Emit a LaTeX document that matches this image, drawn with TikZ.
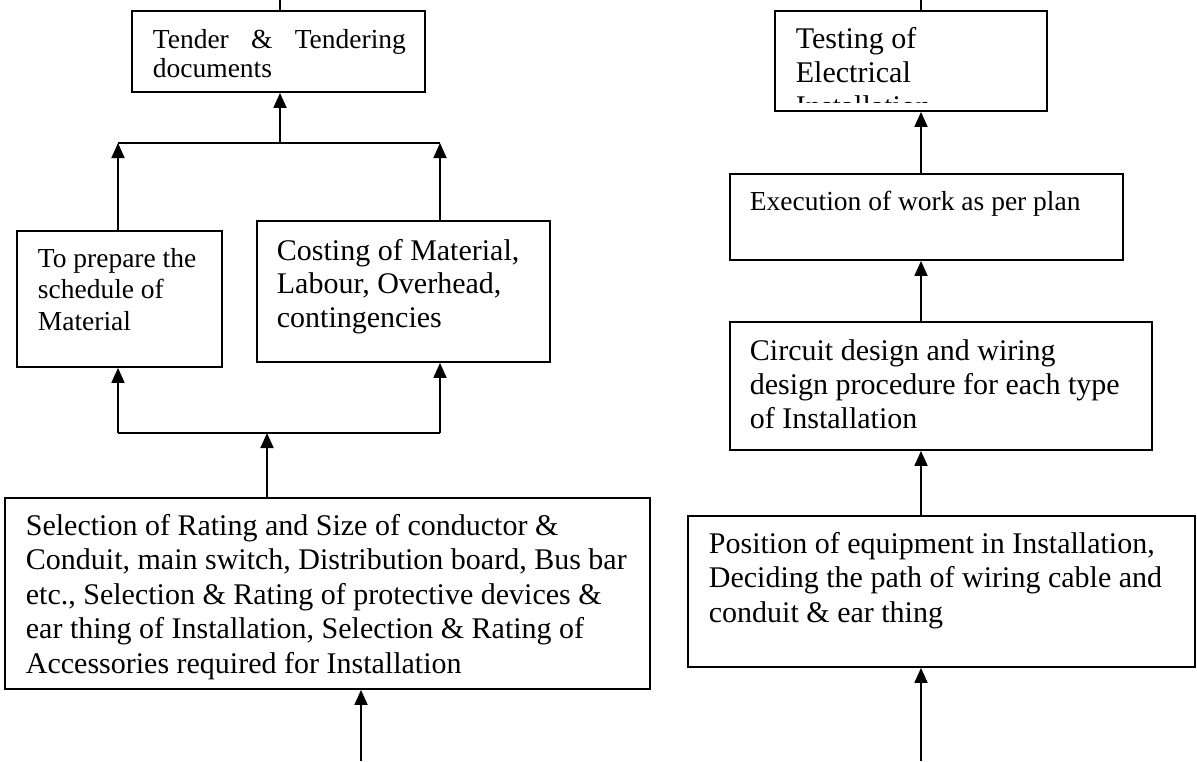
\documentclass[tikz,border=0pt]{standalone}
\usepackage{fontspec}
\setmainfont{Liberation Serif}
\usetikzlibrary{arrows.meta,fit,calc}

\begin{document}
\begin{tikzpicture}[x=0.5pt,y=-0.5pt,line width=0.9pt,
		blk/.style={draw,inner sep=0pt},
		txt/.style={inner sep=0pt,anchor=base west,align=left},
		big/.style={font=\fontsize{15}{17.25}\selectfont},
		sml/.style={font=\fontsize{13.75}{15}\selectfont},
		arr/.style={-{Triangle[length=7.5pt,width=6.5pt]}}]
	\useasboundingbox (0,0) rectangle (1197,761);
	% left column (text nodes sit on their last baseline)
	\node[blk,fit={(132,11) (425,92)}] (tend) {};
	\node[blk,fit={(17,231) (222,367)}] (sched) {};
	\node[blk,fit={(257,221) (550,362)}] (cost) {};
	\node[blk,fit={(5,498) (650,689)}] (sel) {};
	\node[txt,sml,font=\fontsize{13.75}{14.5}\selectfont] (tendt) at (152,77)
		{\makebox[126.5pt][s]{Tender \& Tendering}\\documents};
	\node[txt,sml,font=\fontsize{13.75}{15.75}\selectfont] (schedt) at (37,330)
		{To prepare the\\schedule of\\Material};
	\node[txt,big,font=\fontsize{15}{16.75}\selectfont] (costt) at (276,327)
		{Costing of Material,\\Labour, Overhead,\\contingencies};
	\node[txt,big] (selt) at (25,673)
		{Selection of Rating and Size of conductor \&\\
		 Conduit, main switch, Distribution board, Bus bar\\
		 etc., Selection \& Rating of protective devices \&\\
		 ear thing of Installation, Selection \& Rating of\\
		 Accessories required for Installation};
	\coordinate (top1) at (280,0);
	\coordinate (j1) at (280,143);
	\coordinate (jl) at (118,143);
	\coordinate (jr) at (440,143);
	\coordinate (kl) at (118,433);
	\coordinate (kr) at (440,433);
	\coordinate (k1) at (267,433);
	\coordinate (bot1) at (361,761);
	\draw (top1) -- (top1 |- tend.north);
	\draw[arr] (j1) -- (j1 |- tend.south);
	\draw (jl) -- (jr);
	\draw[arr] (sched.north -| jl) -- (jl);
	\draw[arr] (cost.north -| jr) -- (jr);
	\draw (kl) -- (kr);
	\draw[arr] (kl) -- (kl |- sched.south);
	\draw[arr] (kr) -- (kr |- cost.south);
	\draw[arr] (sel.north -| k1) -- (k1);
	\draw[arr] (bot1) -- (bot1 |- sel.south);
	% right column
	\node[blk,fit={(775,11) (1047,111)}] (test) {};
	\node[blk,fit={(730,174) (1123,260)}] (exec) {};
	\node[blk,fit={(730,322) (1152,450)}] (circ) {};
	\node[blk,fit={(688,516) (1195,667)}] (pos) {};
	\begin{scope}
		\clip (775,11) rectangle (1047,102);
		\node[txt,big,font=\fontsize{15}{17}\selectfont] (testt) at (795,116)
			{Testing of\\Electrical\\Installation};
	\end{scope}
	\node[txt,sml] (exect) at (749,210) {Execution of work as per plan};
	\node[txt,big,font=\fontsize{15}{17}\selectfont] (circt) at (749,428)
		{Circuit design and wiring\\design procedure for each type\\of Installation};
	\node[txt,big] (post) at (708,622)
		{Position of equipment in Installation,\\
		 Deciding the path of wiring cable and\\
		 conduit \& ear thing};
	\coordinate (top2) at (921,0);
	\coordinate (bot2) at (921,761);
	\draw (top2) -- (top2 |- test.north);
	\draw[arr] (exec.north -| top2) -- (top2 |- test.south);
	\draw[arr] (circ.north -| top2) -- (top2 |- exec.south);
	\draw[arr] (pos.north -| top2) -- (top2 |- circ.south);
	\draw[arr] (bot2) -- (bot2 |- pos.south);
\end{tikzpicture}
\end{document}
